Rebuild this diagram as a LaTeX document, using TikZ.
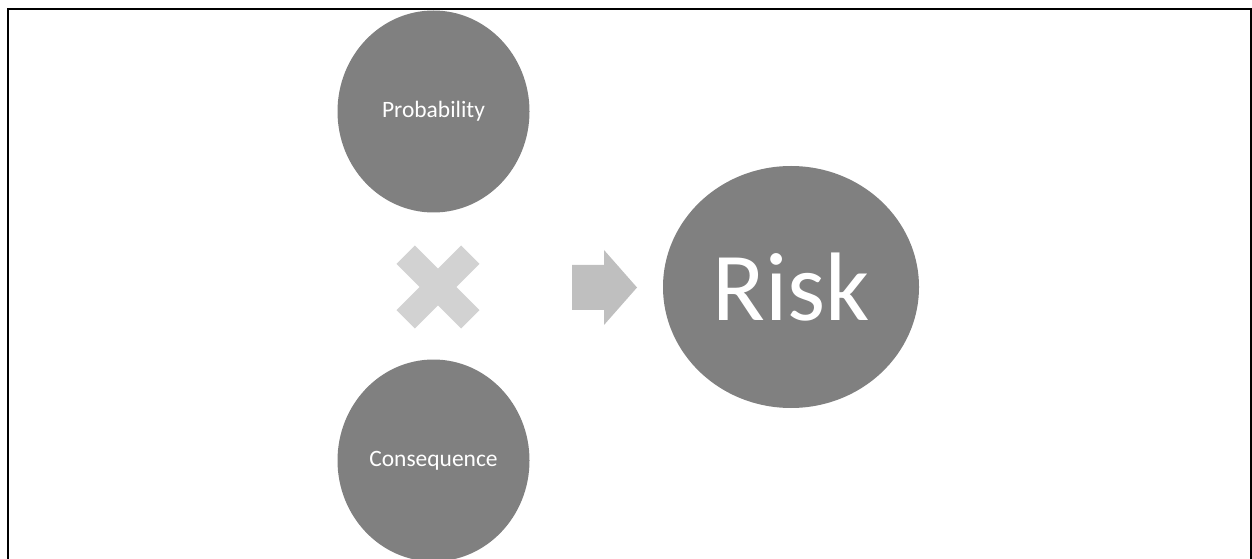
\documentclass[tikz,border=0pt]{standalone}
\usepackage{fontspec}
\setmainfont{Carlito}
\usetikzlibrary{shapes.geometric,positioning}

\begin{document}
\begin{tikzpicture}[x=0.75pt,y=-0.75pt,
		factor/.style={ellipse,fill=gray,text=white,inner sep=0pt,
			minimum width=144pt,minimum height=151.5pt,font=\fontsize{17.6}{20}\selectfont},
		result/.style={ellipse,fill=gray,text=white,inner sep=0pt,
			minimum width=192pt,minimum height=181.5pt,font=\fontsize{73}{80}\selectfont}]
		\useasboundingbox (0,0) rectangle (1252,559);
		\node[factor] (prob) at (433.5,111.5) {Probability};
		\node[factor] (cons) at (433.5,460.5) {Consequence};
		\node[result] (risk) at (791,287) {Risk};
		\coordinate (times) at (438,287);
		\coordinate (implies) at (572,287.5);
		\begin{scope}[shift={(times)},rotate=45]
		\fill[gray!35] (-13,-45.7) -- (13,-45.7) -- (13,-13) -- (45.7,-13) -- (45.7,13) -- (13,13)
			-- (13,45.7) -- (-13,45.7) -- (-13,13) -- (-45.7,13) -- (-45.7,-13) -- (-13,-13) -- cycle;
		\end{scope}
		\fill[gray!50] (implies) ++(0,-22.5) -- ++(32,0) -- ++(0,-15) -- ++(33,37.5)
			-- ++(-33,37.5) -- ++(0,-15) -- ++(-32,0) -- cycle;
		\draw[line width=1.5pt] (7.5,600) |- (1251.3,9.5) -- (1251.3,600);
\end{tikzpicture}
\end{document}
